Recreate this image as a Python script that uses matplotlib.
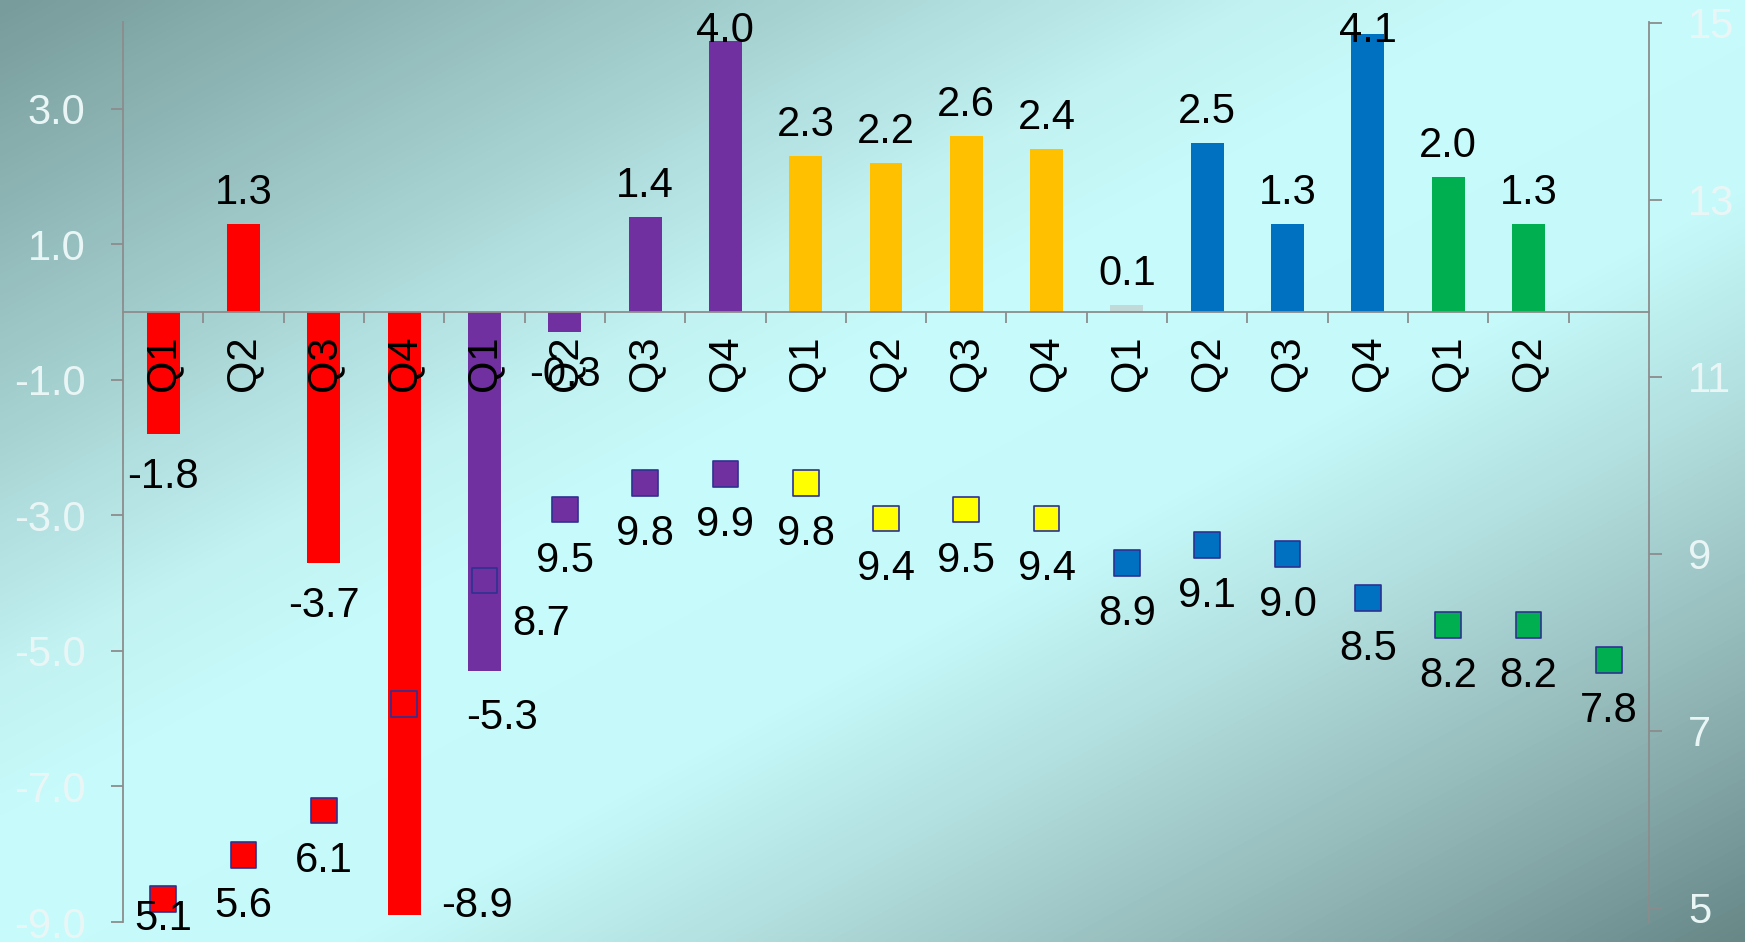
import numpy as np
import matplotlib
matplotlib.use('Agg')
import matplotlib.pyplot as plt
from matplotlib.colors import LinearSegmentedColormap
from matplotlib.ticker import FormatStrFormatter

plt.rcParams['font.family'] = ['Liberation Sans', 'DejaVu Sans']

# data
quarters = ['Q1', 'Q2', 'Q3', 'Q4', 'Q1', 'Q2', 'Q3', 'Q4', 'Q1', 'Q2', 'Q3', 'Q4',
            'Q1', 'Q2', 'Q3', 'Q4', 'Q1', 'Q2']
bar_vals = [-1.8, 1.3, -3.7, -8.9, -5.3, -0.3, 1.4, 4.0, 2.3, 2.2, 2.6, 2.4,
            0.1, 2.5, 1.3, 4.1, 2.0, 1.3]
marker_vals = [5.1, 5.6, 6.1, 7.3, 8.7, 9.5, 9.8, 9.9, 9.8, 9.4, 9.5, 9.4,
               8.9, 9.1, 9.0, 8.5, 8.2, 8.2, 7.8]
bar_colors = ['#ff0000'] * 4 + ['#7030a0'] * 4 + ['#ffc000'] * 4 + \
             ['#c2d9d9'] + ['#0070c0'] * 3 + ['#00b050'] * 2
marker_colors = ['#ff0000'] * 4 + ['#7030a0'] * 4 + ['#ffff00'] * 4 + \
                ['#0070c0'] * 4 + ['#00b050'] * 3
left_ticks = [-9, -7, -5, -3, -1, 1, 3]
right_ticks = [5, 7, 9, 11, 13, 15]

W, H = 1745, 942
FS = 30
fig = plt.figure(figsize=(W / 100, H / 100), dpi=100)

# diagonal gradient background
bg = fig.add_axes([0, 0, 1, 1], zorder=-10)
gx, gy = np.meshgrid(np.linspace(0, 1, 400), np.linspace(0, 1, 220))
t = (gx + gy) / 2
cmap = LinearSegmentedColormap.from_list('bg', [
    (0.0, '#789b9b'), (0.36, '#c2f2f2'), (0.45, '#c8fcfc'),
    (0.6, '#c6fafa'), (0.72, '#b0dcdc'), (0.86, '#90b4b4'), (1.0, '#688888')])
bg.imshow(t, cmap=cmap, aspect='auto', extent=(0, 1, 0, 1), origin='upper',
          vmin=0, vmax=1, interpolation='bilinear')
bg.axis('off')

grey = '#8c8c8c'
light = '#eaf6f6'

ax = fig.add_axes([123 / W, 20 / H, (1649 - 123) / W, 900 / H])
ax.patch.set_alpha(0)
x = np.arange(len(bar_vals))
xm = np.arange(len(marker_vals))
ax.bar(x, bar_vals, width=0.41, color=bar_colors, zorder=1)
ax.set_xlim(-0.5, len(marker_vals) - 0.5)
ax.set_ylim(-9, 4.28)

for s in ['top', 'right']:
    ax.spines[s].set_visible(False)
ax.spines['bottom'].set_position(('data', 0))
for s in ['bottom', 'left']:
    ax.spines[s].set_color(grey)
    ax.spines[s].set_linewidth(1.3)

ax.set_xticks(np.arange(0.5, len(bar_vals), 1))
ax.set_xticklabels([])
ax.set_xticks(x, quarters, minor=True)
ax.tick_params(axis='x', which='major', length=8, width=1.3, color=grey, direction='out')
ax.tick_params(axis='x', which='minor', length=0, pad=17, labelsize=FS, labelrotation=90)
ax.set_yticks(left_ticks)
ax.yaxis.set_major_formatter(FormatStrFormatter('%.1f'))
ax.tick_params(axis='y', length=9, width=1.3, color=grey, pad=18,
               labelsize=FS, labelcolor=light)

ax2 = ax.twinx()
ax2.set_ylim(4.84, 15.01)
for s in ['top', 'left', 'bottom']:
    ax2.spines[s].set_visible(False)
ax2.spines['right'].set_color(grey)
ax2.spines['right'].set_linewidth(1.3)
ax2.set_yticks(right_ticks)
ax2.tick_params(axis='y', length=9, width=1.3, color=grey, pad=19,
                labelsize=FS, labelcolor=light)
ax2.scatter(xm, marker_vals, marker='s', s=18.5 ** 2, c=marker_colors,
            edgecolors='#2e3192', linewidths=1.2, zorder=3)

# data labels (offsets in pixels)
top_disp = ax.transAxes.transform((0, 1))[1]
bot_disp = ax.transAxes.transform((0, 0))[1]

bar_special = {3: (73, 9), 4: (18, -47)}
for i, v in enumerate(bar_vals):
    px, py = ax.transData.transform((i, v))
    if i in bar_special:
        dx, dy = bar_special[i]
    else:
        dx, dy = 0, (31 if v >= 0 else -43)
    ty = min(py + dy, top_disp - 9)
    ax.text(px + dx, ty, f'{v:.1f}', transform=None, ha='center', va='center',
            fontsize=FS, color='black', zorder=5)

marker_special = {4: (57, -44)}
for i, v in enumerate(marker_vals):
    if i == 3:
        continue
    px, py = ax2.transData.transform((i, v))
    dx, dy = marker_special.get(i, (0, -51))
    ty = max(py + dy, bot_disp + 3)
    ax2.text(px + dx, ty, f'{v:.1f}', transform=None, ha='center', va='center',
             fontsize=FS, color='black', zorder=5)

fig.savefig('out.png', dpi=100)
